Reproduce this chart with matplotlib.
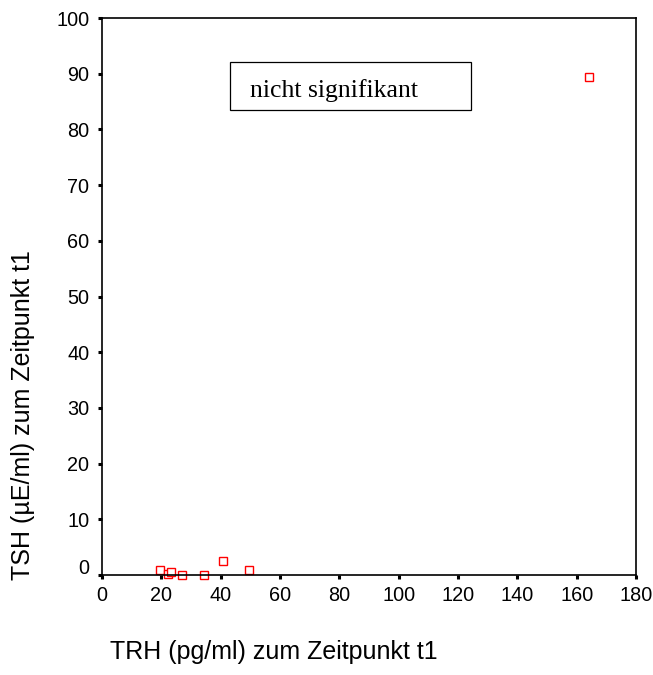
import matplotlib
matplotlib.use("Agg")
import matplotlib.pyplot as plt
import matplotlib.transforms as mtransforms
from matplotlib.patches import Rectangle

trh = [19.5, 22.1, 23.3, 27.1, 34.4, 40.7, 49.4, 164.2]
tsh = [0.9, 0.1, 0.6, 0.0, 0.0, 2.5, 0.9, 89.4]
xticks = [0, 20, 40, 60, 80, 100, 120, 140, 160, 180]
yticks = [0, 10, 20, 30, 40, 50, 60, 70, 80, 90, 100]

plt.rcParams['font.family'] = ['Liberation Sans', 'DejaVu Sans']

fig = plt.figure(figsize=(6.53, 6.75), dpi=100)
ax = fig.add_axes([102/653, 1-575/675, (636-102)/653, (575-18)/675])

ax.plot(trh, tsh, linestyle='none', marker='s', markersize=5.5,
        markerfacecolor='white', markeredgecolor='#ff0000', markeredgewidth=1.0,
        clip_on=False)

ax.set_xlim(0, 180)
ax.set_ylim(0, 100)
ax.set_xticks(xticks)
ax.set_yticks(yticks)
ax.set_xticklabels([str(v) for v in xticks])
ax.set_yticklabels([str(v) for v in yticks])
for s in ax.spines.values():
    s.set_linewidth(1.2)
ax.tick_params(axis='both', direction='out', length=3, width=2.2, labelsize=14.3, colors='black')
ax.tick_params(axis='x', pad=5)
ax.tick_params(axis='y', pad=6)

# lift the "0" y tick label slightly as in the reference
lbl0 = ax.get_yticklabels()[0]
lbl0.set_transform(lbl0.get_transform() + mtransforms.ScaledTranslation(0, 9/100, fig.dpi_scale_trans))

# annotation box
fig.text(250/653, 1-97/675, 'nicht signifikant',
         family='Liberation Serif', fontsize=18.5, ha='left', va='baseline')
fig.patches.append(Rectangle((229.5/653, 1-110/675), (470.5-229.5)/653, (110-61.5)/675,
                             transform=fig.transFigure, fill=False, edgecolor='black', linewidth=0.9))

fig.text(23/653, 1-415/675, 'TSH (µE/ml) zum Zeitpunkt t1', rotation=90,
         ha='center', va='center', fontsize=18)
fig.text(274/653, 1-652/675, 'TRH (pg/ml) zum Zeitpunkt t1', ha='center', va='center', fontsize=18)

fig.savefig('out.png', dpi=100)
